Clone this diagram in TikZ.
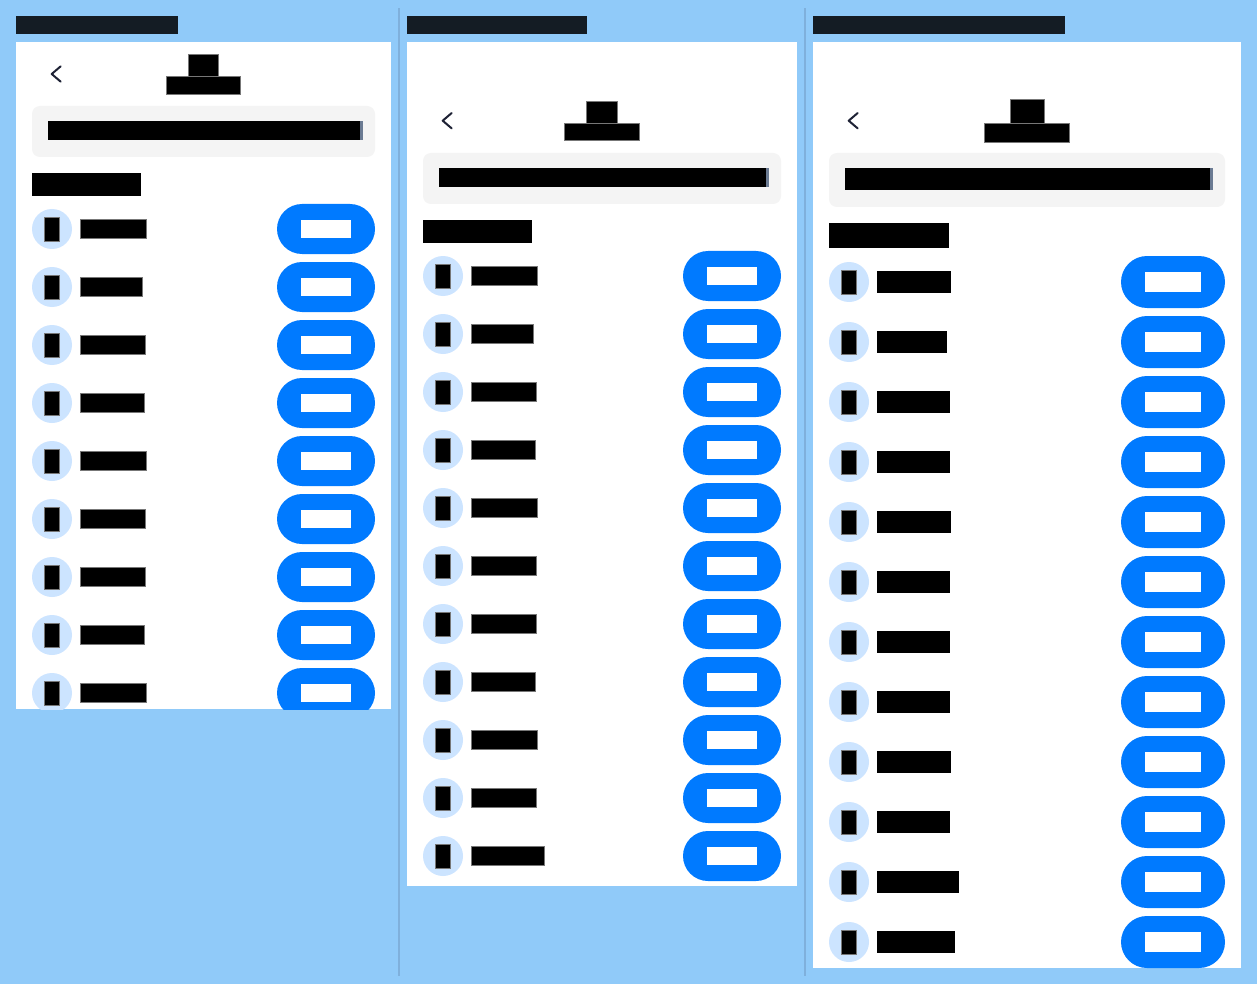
\documentclass[tikz,border=0pt]{standalone}
\definecolor{pagebg}{HTML}{90CAF9}
\definecolor{divider}{HTML}{7FB0DC}
\definecolor{titlebar}{HTML}{141C24}
\definecolor{searchbg}{HTML}{F4F4F4}
\definecolor{sliver}{HTML}{6B7B93}
\definecolor{avatar}{HTML}{CCE4FF}
\definecolor{pillblue}{HTML}{007AFF}
\definecolor{chevron}{HTML}{1E2235}
\definecolor{blockedge}{HTML}{777777}
\tikzset{
  block/.style={fill=black},
  edged/.style={fill=black,draw=blockedge,line width=.3pt},
  listlabel/.style={edged},
  back/.style={draw=chevron,line width=2pt,line cap=round,line join=round},
  pill/.style={fill=pillblue,rounded corners=#1},
  search/.style={fill=searchbg,rounded corners=8pt},
}
% one list row: #1 panel left, #2 row centre y, #3 label end, #4 half height of label, #5 pill left, #6 half height of pill, #7 pill right
\newcommand{\listrow}[7]{
  \fill[avatar] (#1+36,#2) circle (20);
  \draw[edged] (#1+28.6,#2-11.8) rectangle (#1+43.3,#2+11.8);
  \fill[listlabel] (#1+64,#2-#4) rectangle (#3-.7,#2+#4);
  \fill[pill=#6pt] (#5,#2-#6) rectangle (#7,#2+#6);
  \fill[white] (#5+24,#2-#6+16) rectangle (#7-24,#2+#6-16);
}
\begin{document}
\begin{tikzpicture}[x=1pt,y=-1pt]
  \useasboundingbox (0,0) rectangle (1257,984);
  \fill[pagebg] (0,0) rectangle (1257,984);

  % dividers
  \fill[divider] (398,8) rectangle (400,976);
  \fill[divider] (804,8) rectangle (806,976);

  % first panel
  \fill[titlebar] (16,16) rectangle (178,34);
  \fill[white] (16,42) rectangle (391,709);
  \draw[back] (60.7,66.3) -- (51.7,74) -- (60.7,81.7);
  \draw[edged] (188.2,54.3) rectangle (218.5,76);
  \draw[edged] (166.2,76.5) rectangle (240.5,93.7);
  \fill[search] (32,106) rectangle (375,157);
  \fill[sliver] (360,121) rectangle (363,140);
  \fill[block] (48,121) rectangle (360,140);
  \fill[block] (32,173) rectangle (141,196);
  \begin{scope}
    \clip (16,42) rectangle (391,709);
    \foreach \labelend [count=\i from 0] in {147,143,146,145,147,146,146,145,147} {
      \pgfmathsetmacro{\rowy}{229+58*\i}
      \listrow{16}{\rowy}{\labelend}{9.5}{277}{25}{375}
    }
  \end{scope}

  % second panel
  \fill[titlebar] (407,16) rectangle (587,34);
  \fill[white] (407,42) rectangle (797,886);
  \draw[back] (451.7,113) -- (442.7,120.7) -- (451.7,128.4);
  \draw[edged] (586.5,101.5) rectangle (617.5,123);
  \draw[edged] (564.5,123.5) rectangle (639.5,140.3);
  \fill[search] (423,153) rectangle (781,204);
  \fill[sliver] (766,168) rectangle (769,187);
  \fill[block] (439,168) rectangle (766,187);
  \fill[block] (423,220) rectangle (532,243);
  \foreach \labelend [count=\i from 0] in {538,534,537,536,538,537,537,536,538,537,545} {
    \pgfmathsetmacro{\rowy}{276+58*\i}
    \listrow{407}{\rowy}{\labelend}{9.5}{683}{25}{781}
  }

  % third panel
  \fill[titlebar] (813,16) rectangle (1065,34);
  \fill[white] (813,42) rectangle (1241,968);
  \draw[back] (857.7,113) -- (848.7,120.7) -- (857.7,128.4);
  \draw[edged] (1010.3,99.3) rectangle (1043.7,123);
  \draw[edged] (984.4,123.5) rectangle (1069.3,142.3);
  \fill[search] (829,153) rectangle (1225,207);
  \fill[sliver] (1210,168) rectangle (1213,190);
  \fill[block] (845,168) rectangle (1210,190);
  \fill[block] (829,223) rectangle (949,248);
  \begin{scope}[listlabel/.style={block}]
    \foreach \labelend [count=\i from 0] in {952,948,951,951,952,951,951,951,952,951,960,956} {
      \pgfmathsetmacro{\rowy}{282+60*\i}
      \listrow{813}{\rowy}{\labelend}{11}{1121}{26}{1225}
    }
  \end{scope}
\end{tikzpicture}
\end{document}
